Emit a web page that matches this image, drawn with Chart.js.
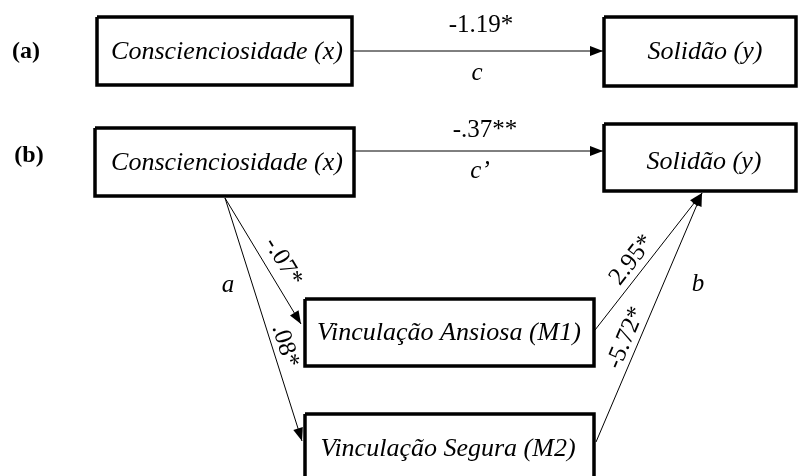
<!DOCTYPE html>
<html>
<head>
<meta charset="utf-8">
<script src="https://cdn.jsdelivr.net/npm/chart.js@4.4.1/dist/chart.umd.min.js"></script>
<style>
  html, body { margin: 0; padding: 0; background: #fff; }
  #wrap { width: 798px; height: 476px; }
</style>
</head>
<body>
<div id="wrap"><canvas id="diagram" width="798" height="476"></canvas></div>
<script>
// valori del modello di mediazione
const panelLabels = ['(a)', '(b)'];
const nodeNames = [
  'Conscienciosidade (x)', 'Solidão (y)',
  'Conscienciosidade (x)', 'Solidão (y)',
  'Vinculação Ansiosa (M1)', 'Vinculação Segura (M2)'
];
const pathLetters = ['c', 'c’', 'a', 'b'];
const coefficients = ['-1.19*', '-.37**', '-.07*', '.08*', '2.95*', '-5.72*'];

// geometria (unità della scala = pixel)
const boxes = [
  [97, 17, 352, 85], [604, 17, 796, 86],
  [95, 128, 354, 196], [604, 124, 796, 191],
  [305, 299, 594, 366], [305, 414, 594, 492]
];
const nameAt = [[227, 52], [705, 52], [227, 163], [704, 162], [449, 333], [448, 449]];
const panelAt = [[26, 52], [29, 156]];
const edges = [
  [[353, 51], [603, 51]],
  [[355, 151], [603, 151]],
  [[225, 198], [301, 324]],
  [[225, 198], [302, 441]],
  [[595, 330], [702, 193]],
  [[596, 442], [702, 193]]
];
const coefAt = [[481, 25], [485, 130], [283, 262], [285, 346], [632, 260], [626, 338]];
const coefRotated = [false, false, true, true, true, true];
const letterAt = [[477, 73], [480, 171], [228, 285], [698, 284]];

const datasets = [];
boxes.forEach(function(b) {
  datasets.push({
    data: [{x: b[0], y: b[1]}, {x: b[2], y: b[1]}, {x: b[2], y: b[3]}, {x: b[0], y: b[3]}, {x: b[0], y: b[1]}],
    borderColor: '#000', borderWidth: 3.5, borderJoinStyle: 'miter',
    pointRadius: 0, showLine: true, fill: false, tension: 0
  });
});
edges.forEach(function(e) {
  datasets.push({
    data: [{x: e[0][0], y: e[0][1]}, {x: e[1][0], y: e[1][1]}],
    borderColor: '#000', borderWidth: 1,
    pointRadius: 0, showLine: true, fill: false, tension: 0
  });
});

const SERIF = '"Liberation Serif", "Times New Roman", serif';

// frecce e testi
const diagramPlugin = {
  id: 'diagram',
  afterDatasetsDraw: function(chart) {
    const ctx = chart.ctx;
    const sx = chart.scales.x, sy = chart.scales.y;
    const px = function(p) { return [sx.getPixelForValue(p[0]), sy.getPixelForValue(p[1])]; };

    ctx.save();
    ctx.fillStyle = '#000';
    edges.forEach(function(e) {
      const a = px(e[0]), b = px(e[1]);
      const ang = Math.atan2(b[1] - a[1], b[0] - a[0]);
      ctx.save();
      ctx.translate(b[0], b[1]);
      ctx.rotate(ang);
      ctx.beginPath();
      ctx.moveTo(0, 0);
      ctx.lineTo(-13, -5);
      ctx.lineTo(-13, 5);
      ctx.closePath();
      ctx.fill();
      ctx.restore();
    });

    ctx.textAlign = 'center';
    ctx.textBaseline = 'middle';

    ctx.font = 'bold 24px ' + SERIF;
    panelLabels.forEach(function(t, i) {
      const p = px(panelAt[i]);
      ctx.fillText(t, p[0], p[1]);
    });

    ctx.font = 'italic 26px ' + SERIF;
    nodeNames.forEach(function(t, i) {
      const p = px(nameAt[i]);
      ctx.fillText(t, p[0], p[1]);
    });

    ctx.font = 'italic 25px ' + SERIF;
    pathLetters.forEach(function(t, i) {
      const p = px(letterAt[i]);
      ctx.fillText(t, p[0], p[1]);
    });

    ctx.font = '25px ' + SERIF;
    coefficients.forEach(function(t, i) {
      const p = px(coefAt[i]);
      ctx.save();
      ctx.translate(p[0], p[1]);
      if (coefRotated[i]) {
        const a = px(edges[i][0]), b = px(edges[i][1]);
        ctx.rotate(Math.atan2(b[1] - a[1], b[0] - a[0]));
      }
      ctx.fillText(t, 0, 0);
      ctx.restore();
    });
    ctx.restore();
  }
};

new Chart(document.getElementById('diagram'), {
  type: 'scatter',
  data: { datasets: datasets },
  options: {
    responsive: false,
    animation: false,
    layout: { padding: 0 },
    plugins: { legend: { display: false }, tooltip: { enabled: false } },
    scales: {
      x: { type: 'linear', min: 0, max: 798, display: false },
      y: { type: 'linear', min: 0, max: 476, reverse: true, display: false }
    }
  },
  plugins: [diagramPlugin]
});
</script>
</body>
</html>
